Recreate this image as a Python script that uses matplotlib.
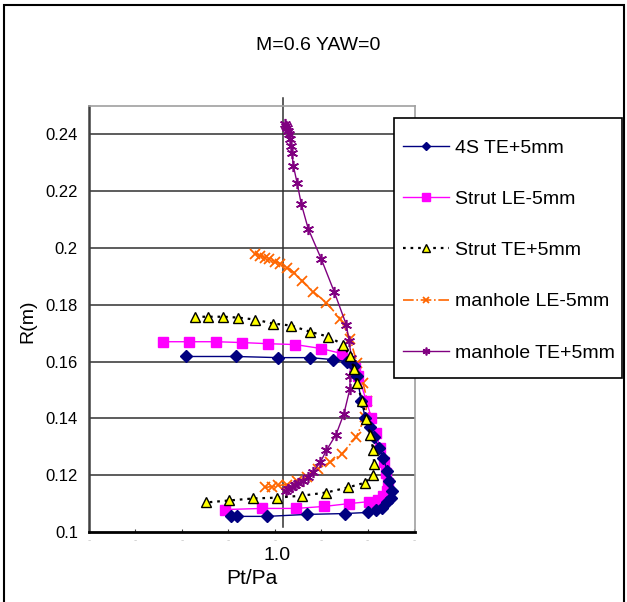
import numpy as np
import matplotlib.pyplot as plt
from matplotlib.patches import Rectangle

plt.rcParams['font.family'] = ['Liberation Sans', 'DejaVu Sans']

# 4S TE+5mm
s4_x = [0.9791, 0.9899, 0.9989, 1.0058, 1.0108, 1.0138, 1.0153, 1.0159, 1.0168, 1.0177,
        1.0188, 1.0196, 1.0207, 1.0216, 1.0224, 1.0228, 1.0235, 1.0233, 1.0224, 1.0213,
        1.0200, 1.0183, 1.0134, 1.0052, 0.9966, 0.9901, 0.9888]
s4_r = [0.1618, 0.1618, 0.1614, 0.1614, 0.1607, 0.1600, 0.1586, 0.1551, 0.1463, 0.1403,
        0.1368, 0.1333, 0.1297, 0.1259, 0.1216, 0.1181, 0.1146, 0.1121, 0.1104, 0.1086,
        0.1076, 0.1069, 0.1065, 0.1062, 0.1055, 0.1055, 0.1055]

# Strut LE-5mm
sle_x = [0.9741, 0.9797, 0.9856, 0.9912, 0.9968, 1.0026, 1.0082, 1.0127, 1.0155, 1.0162,
         1.0179, 1.0190, 1.0200, 1.0209, 1.0218, 1.0222, 1.0226, 1.0224, 1.0216, 1.0205,
         1.0185, 1.0142, 1.0088, 1.0028, 0.9955, 0.9875]
sle_r = [0.1670, 0.1670, 0.1670, 0.1667, 0.1663, 0.1660, 0.1646, 0.1628, 0.1579, 0.1551,
         0.1463, 0.1403, 0.1347, 0.1297, 0.1245, 0.1206, 0.1171, 0.1146, 0.1128, 0.1114,
         0.1107, 0.1100, 0.1090, 0.1083, 0.1083, 0.1079]

# Strut TE+5mm
ste_x = [0.9810, 0.9838, 0.9871, 0.9903, 0.9940, 0.9978, 1.0017, 1.0058, 1.0097, 1.0129,
         1.0144, 1.0153, 1.0159, 1.0170, 1.0179, 1.0188, 1.0194, 1.0196, 1.0194, 1.0177,
         1.0140, 1.0093, 1.0041, 0.9987, 0.9935, 0.9884, 0.9834]
ste_r = [0.1758, 0.1758, 0.1758, 0.1755, 0.1748, 0.1734, 0.1727, 0.1705, 0.1688, 0.1660,
         0.1618, 0.1575, 0.1523, 0.1463, 0.1399, 0.1340, 0.1290, 0.1241, 0.1202, 0.1174,
         0.1157, 0.1139, 0.1128, 0.1121, 0.1118, 0.1111, 0.1104]

# manhole LE-5mm
mle_x = [0.9940, 0.9950, 0.9961, 0.9970, 0.9983, 0.9994, 1.0009, 1.0024, 1.0041, 1.0065,
         1.0093, 1.0123, 1.0144, 1.0159, 1.0172, 1.0181, 1.0177, 1.0157, 1.0127, 1.0101,
         1.0075, 1.0052, 1.0030, 1.0009, 0.9989, 0.9976, 0.9961]
mle_r = [0.1980, 0.1973, 0.1966, 0.1962, 0.1952, 0.1945, 0.1931, 0.1913, 0.1885, 0.1846,
         0.1808, 0.1751, 0.1681, 0.1596, 0.1526, 0.1463, 0.1406, 0.1333, 0.1276, 0.1245,
         0.1223, 0.1195, 0.1178, 0.1167, 0.1164, 0.1160, 0.1157]

# manhole TE+5mm
mte_x = [1.0004, 1.0006, 1.0009, 1.0011, 1.0013, 1.0015, 1.0017, 1.0019, 1.0022, 1.0030,
         1.0039, 1.0054, 1.0082, 1.0110, 1.0136, 1.0142, 1.0147, 1.0144, 1.0144, 1.0131,
         1.0114, 1.0093, 1.0080, 1.0065, 1.0054, 1.0043, 1.0032, 1.0026, 1.0019, 1.0011,
         1.0006]
mte_r = [0.2437, 0.2430, 0.2423, 0.2413, 0.2402, 0.2385, 0.2360, 0.2335, 0.2290, 0.2230,
         0.2156, 0.2068, 0.1962, 0.1846, 0.1730, 0.1674, 0.1614, 0.1551, 0.1505, 0.1417,
         0.1343, 0.1287, 0.1245, 0.1213, 0.1192, 0.1178, 0.1171, 0.1164, 0.1157, 0.1153,
         0.1146]

y_ticks = [0.1, 0.12, 0.14, 0.16, 0.18, 0.2, 0.22, 0.24]
y_ticklabels = ["0.1", "0.12", "0.14", "0.16", "0.18", "0.2", "0.22", "0.24"]

W, H = 627, 602
fig = plt.figure(figsize=(W / 100, H / 100), dpi=100)
ax = fig.add_axes([89 / W, 1 - 532 / H, (415 - 89) / W, (532 - 106) / H])

for r in y_ticks[1:]:
    ax.axhline(r, color="#303030", lw=1.1, zorder=1)

# reference line at Pt/Pa = 1.0
ax.plot([1.0, 1.0], [0.1019, 0.2529], color="#303030", lw=1.1, clip_on=False, zorder=2)

ax.plot(s4_x, s4_r, color="#000080", lw=1, marker="D", ms=6, mfc="#000080",
        mec="#000080", label="4S TE+5mm", zorder=5)
ax.plot(sle_x, sle_r, color="#FF00FF", lw=1, marker="s", ms=7.5, mfc="#FF00FF",
        mec="#FF00FF", label="Strut LE-5mm", zorder=4)
ax.plot(ste_x, ste_r, color="black", lw=1.6, ls=(0, (1.2, 2.2)), marker="^", ms=7.5,
        mfc="#FFFF00", mec="black", mew=1, label="Strut TE+5mm", zorder=6)
ax.plot(mle_x, mle_r, color="#FF6600", lw=1.2, ls="-.", marker="x", ms=7, mew=1.3,
        mec="#FF6600", label="manhole LE-5mm", zorder=3)
ax.plot(mte_x, mte_r, color="#800080", lw=1, marker=(6, 2, 0), ms=8, mew=1.2,
        mec="#800080", label="manhole TE+5mm", zorder=3)

ax.set_xlim(0.9582, 1.0284)
ax.set_ylim(0.1, 0.25)
xt = np.arange(0.9582, 1.029, 0.01)
ax.set_xticks(xt)
ax.set_xticklabels(["-"] * len(xt), color="#c8c8c8", fontsize=7)
ax.tick_params(axis="x", direction="in", length=2, pad=2, color="#404040")
ax.set_yticks(y_ticks)
ax.set_yticklabels(y_ticklabels, fontsize=12)
ax.tick_params(axis="y", length=0, pad=8)

for s in ["top", "right"]:
    ax.spines[s].set_color("#a0a0a0")
    ax.spines[s].set_linewidth(1.2)
ax.spines["left"].set_color("#404040")
ax.spines["left"].set_linewidth(1.8)
ax.spines["bottom"].set_color("black")
ax.spines["bottom"].set_linewidth(2)

# legend box drawn separately, entries on top of it
ax.add_patch(Rectangle((394 / W, 1 - 378 / H), 228 / W, 260 / H,
                       transform=fig.transFigure, facecolor="white",
                       edgecolor="black", lw=1.2, clip_on=False, zorder=7))
leg = ax.legend(loc="upper left", bbox_to_anchor=(403 / W, 1 - 139 / H),
                bbox_transform=fig.transFigure, fontsize=14, frameon=False,
                handlelength=2.37, handletextpad=0.3, labelspacing=1.73,
                borderpad=0, borderaxespad=0, markerscale=0.7)
leg.set_zorder(8)

fig.text(318 / W, 1 - 45 / H, "M=0.6 YAW=0", ha="center", va="center", fontsize=14)
fig.text(28 / W, 1 - 321 / H, "R(m)", ha="center", va="center", rotation=90, fontsize=14)
fig.text(277 / W, 1 - 556 / H, "1.0", ha="center", va="center", fontsize=14)
fig.text(252 / W, 1 - 579 / H, "Pt/Pa", ha="center", va="center", fontsize=15)

fig.patches.append(Rectangle((4 / W, -0.02), 620 / W, 1.02 - 5 / H, transform=fig.transFigure,
                             fill=False, edgecolor="black", lw=1.5))

fig.savefig("out.png", dpi=100)
